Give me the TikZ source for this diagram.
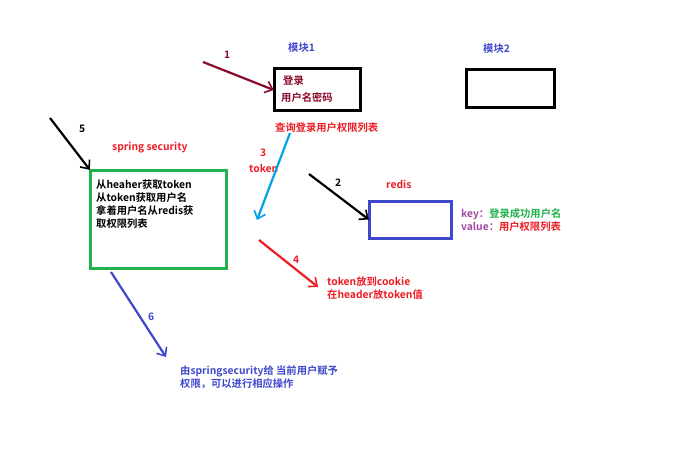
\documentclass[tikz,border=0pt]{standalone}
\usepackage{fontspec}
\setmainfont{Noto Sans CJK SC}[UprightFont=* Bold]
\usetikzlibrary{arrows.meta}
\definecolor{dred}{HTML}{8B0A2A}
\definecolor{cred}{HTML}{EE1C24}
\definecolor{cblue}{HTML}{3F48CC}
\definecolor{ccyan}{HTML}{00A2E8}
\definecolor{cgreen}{HTML}{22B14C}
\definecolor{cpurple}{HTML}{A349A4}
\tikzset{
  arr/.style={line width=2.2pt,-{Straight Barb[length=7pt,width=12pt,line width=1.6pt]}},
  box/.style={line width=3pt},
  txt/.style={font=\fontsize{10.3}{13}\selectfont,inner sep=0pt,anchor=west,align=left},
}
\begin{document}
\begin{tikzpicture}[x=1pt,y=-1pt]
\useasboundingbox[fill=white] (0,0) rectangle (688,468);
% boxes
\coordinate (m1a) at (274,69); \coordinate (m1b) at (360,111);
\draw[box] (m1a) rectangle (m1b);
\node[inner sep=0pt,minimum width=86,minimum height=42] (m1) at (317,90) {};
\coordinate (m2a) at (466,70); \coordinate (m2b) at (554,108);
\draw[box] (m2a) rectangle (m2b);
\coordinate (rda) at (369,201); \coordinate (rdb) at (451,238);
\draw[box,cblue] (rda) rectangle (rdb);
\node[inner sep=0pt,minimum width=82,minimum height=37] (rd) at (410,219.5) {};
\coordinate (ssa) at (90,170); \coordinate (ssb) at (226,268);
\draw[box,cgreen] (ssa) rectangle (ssb);
\node[inner sep=0pt,minimum width=136,minimum height=98] (ss) at (158,219) {};
% texts
\node[txt,text=cblue] (t1) at (288,48) {模块1};
\node[txt,text=cblue] (t2) at (483,49) {模块2};
\node[txt,text=dred] (l1) at (283,81) {登录};
\node[txt,text=dred] (l2) at (281,98) {用户名密码};
\node[txt,text=cred] (q) at (275,128) {查询登录用户权限列表};
\node[txt,text=cred] (rl) at (386,184) {redis};
\node[txt,text=cpurple] (k1) at (461,214) {key：\textcolor{cgreen}{登录成功用户名}};
\node[txt,text=cpurple] (k2) at (461,227) {value：\textcolor{cred}{用户权限列表}};
\node[txt,text=cred] (sl) at (112,148) {spring security};
\node[txt,align=left,anchor=north west] (st) at (96,180) {从heaher获取token\\从token获取用户名\\拿着用户名从redis获\\取权限列表};
\node[txt,text=cred,anchor=north west] (tc) at (327,277) {token放到cookie\\在header放token值};
\node[txt,text=cblue,anchor=north west] (sp) at (180,365) {由springsecurity给 当前用户赋予\\权限，可以进行相应操作};
\node[txt,text=dred] (n1) at (224,55) {1};
\node[txt] (n2) at (335,183) {2};
\node[txt,text=cred] (n3) at (260,153) {3};
\node[txt,text=cred] (n3b) at (249,168) {token};
\node[txt,text=cred] (n4) at (293,260) {4};
\node[txt] (n5) at (79,129) {5};
\node[txt,text=cblue] (n6) at (148,317) {6};
% arrows
\coordinate (a1) at (203,62); \draw[arr,dred] (a1) -- (m1.west);
\coordinate (a2) at (309,174); \draw[arr,black] (a2) -- (rd.west);
\coordinate (a3s) at (290,133); \coordinate (a3e) at (257,220); \draw[arr,ccyan] (a3s) -- (a3e);
\coordinate (a4s) at (259,240); \coordinate (a4e) at (318,287); \draw[arr,cred] (a4s) -- (a4e);
\coordinate (a5) at (50,118); \draw[arr,black] (a5) -- (ss.north west);
\coordinate (a6s) at (111,272); \coordinate (a6e) at (166,357); \draw[arr,cblue] (a6s) -- (a6e);
\end{tikzpicture}
\end{document}
